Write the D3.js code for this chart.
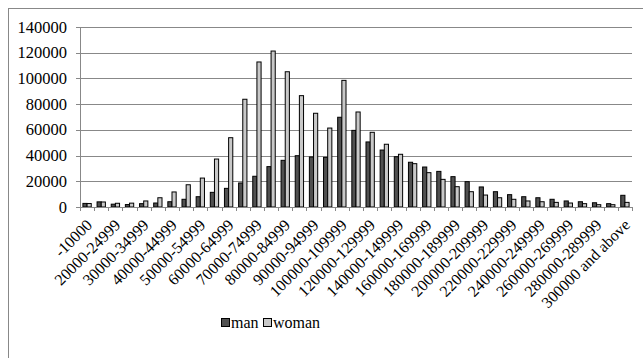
<!DOCTYPE html>
<html>
<head>
<meta charset="utf-8">
<script src="https://cdn.jsdelivr.net/npm/d3@7"></script>
<style>
  body { margin: 0; background: #fff; }
  #chart text { font-family: "Liberation Serif", "Times New Roman", Times, serif; }
</style>
</head>
<body>
<svg id="chart" width="643" height="358"></svg>
<script>
// income brackets
var categories = [
  '-10000', '10000-19999', '20000-24999', '25000-29999', '30000-34999',
  '35000-39999', '40000-44999', '45000-49999', '50000-54999', '55000-59999',
  '60000-64999', '65000-69999', '70000-74999', '75000-79999', '80000-84999',
  '85000-89999', '90000-94999', '95000-99999', '100000-109999', '110000-119999',
  '120000-129999', '130000-139999', '140000-149999', '150000-159999', '160000-169999',
  '170000-179999', '180000-189999', '190000-199999', '200000-209999', '210000-219999',
  '220000-229999', '230000-239999', '240000-249999', '250000-259999', '260000-269999',
  '270000-279999', '280000-289999', '290000-299999', '300000 and above'
]
var series = ['man', 'woman']
var man = [
  2800, 4000, 2200, 1900, 2600, 3100, 4100, 6000, 8000, 11400,
  14500, 18700, 23900, 31400, 36300, 39900, 38900, 38600, 69800, 59600,
  50600, 44300, 39100, 34800, 31100, 27700, 23600, 19700, 15600, 11900,
  9600, 8000, 7200, 6000, 4700, 4100, 3300, 2600, 9100
]
var woman = [
  2700, 3900, 2900, 3000, 4700, 7200, 11700, 17300, 22500, 37300,
  53900, 83800, 112800, 121300, 105200, 86600, 72900, 61400, 98500, 73900,
  58100, 48800, 41000, 33700, 26700, 21500, 15800, 11900, 9300, 7200,
  6000, 4700, 4100, 3600, 3100, 2600, 1800, 1800, 3600
]
var yTicks = [0, 20000, 40000, 60000, 80000, 100000, 120000, 140000]
var colors = { man: '#505050', woman: '#c8c8c8' }
var serif = '"Liberation Serif", "Times New Roman", Times, serif'

var svg = d3.select('#chart')
var plotLeft = 80, plotRight = 632, plotTop = 27, plotBottom = 207

// outer frame
svg.append('rect')
  .attr('x', 8.5).attr('y', 8.5)
  .attr('width', 700).attr('height', 400)
  .attr('fill', 'none').attr('stroke', '#888')

var x = d3.scaleBand().domain(categories).range([plotLeft, plotRight]).padding(0)
var groupW = x.bandwidth() * 2 / 3.4
var xs = d3.scaleBand().domain(series).range([0, groupW])
var y = d3.scaleLinear().domain([0, 140000]).range([plotBottom, plotTop])

// gridlines
svg.append('g')
  .selectAll('line')
  .data(yTicks)
  .enter()
  .append('line')
  .attr('x1', plotLeft - 4)
  .attr('x2', plotRight)
  .attr('y1', d => Math.round(y(d)) + 0.5)
  .attr('y2', d => Math.round(y(d)) + 0.5)
  .attr('stroke', '#888')

// y labels
svg.append('g')
  .selectAll('text')
  .data(yTicks)
  .enter()
  .append('text')
  .attr('x', 67)
  .attr('y', d => y(d) + 5.5)
  .attr('text-anchor', 'end')
  .style('font-family', serif)
  .style('font-size', '16.5px')
  .text(d => d)

// y axis line
svg.append('line')
  .attr('x1', plotLeft + 0.5).attr('x2', plotLeft + 0.5)
  .attr('y1', plotTop).attr('y2', plotBottom)
  .attr('stroke', '#888')

// bars
var rows = categories.map((c, i) => ({ cat: c, man: man[i], woman: woman[i] }))
var groups = svg.append('g')
  .selectAll('g')
  .data(rows)
  .enter()
  .append('g')
  .attr('transform', d => 'translate(' + (x(d.cat) + x.bandwidth() / 2 - groupW / 2) + ',0)')

groups.selectAll('rect')
  .data(d => series.map(s => ({ key: s, value: d[s] })))
  .enter()
  .append('rect')
  .attr('x', d => xs(d.key))
  .attr('y', d => y(d.value))
  .attr('width', xs.bandwidth())
  .attr('height', d => plotBottom - y(d.value))
  .attr('fill', d => colors[d.key])
  .attr('stroke', '#000')
  .attr('stroke-width', 1)

// x axis
svg.append('line')
  .attr('x1', plotLeft).attr('x2', plotRight)
  .attr('y1', plotBottom + 0.5).attr('y2', plotBottom + 0.5)
  .attr('stroke', '#888')

var bounds = categories.map(c => x(c)).concat([plotRight])
svg.append('g')
  .selectAll('line')
  .data(bounds)
  .enter()
  .append('line')
  .attr('x1', d => Math.round(d) + 0.5)
  .attr('x2', d => Math.round(d) + 0.5)
  .attr('y1', plotBottom)
  .attr('y2', plotBottom + 4)
  .attr('stroke', '#888')

// x labels, every other category
svg.append('g')
  .selectAll('text')
  .data(categories.filter((c, i) => i % 2 === 0))
  .enter()
  .append('text')
  .attr('transform', d => 'translate(' + (x(d) + x.bandwidth() / 2 + 6) + ',' + 226 + ') rotate(-45)')
  .attr('text-anchor', 'end')
  .style('font-family', serif)
  .style('font-size', '16px')
  .text(d => d)

// legend
var legend = svg.append('g').attr('transform', 'translate(221,318)')
var lx = [0, 42]
series.forEach((s, i) => {
  legend.append('rect')
    .attr('x', lx[i] + 0.5).attr('y', 0.5)
    .attr('width', 8).attr('height', 8)
    .attr('fill', colors[s])
    .attr('stroke', '#000')
  legend.append('text')
    .attr('x', lx[i] + 10)
    .attr('y', 10)
    .style('font-family', serif)
    .style('font-size', '16px')
    .text(s)
})
</script>
</body>
</html>
